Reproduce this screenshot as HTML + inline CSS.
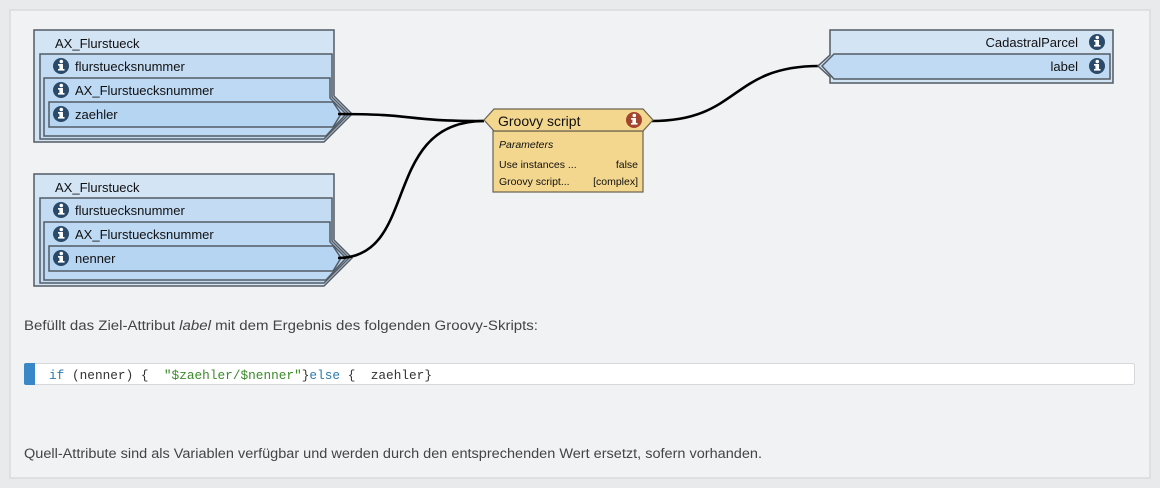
<!DOCTYPE html>
<html><head><meta charset="utf-8"><style>
html,body{margin:0;padding:0;background:#e9eaec;}
svg{display:block;font-family:"Liberation Sans",sans-serif;}
</style></head><body>
<svg width="1160" height="488" viewBox="0 0 1160 488" xmlns="http://www.w3.org/2000/svg">
<defs>
<g id="ic"><circle r="8" fill="#2b4a69"/><rect x="-1.6" y="-2" width="3.6" height="6.5" fill="#fff"/><rect x="-3" y="-2" width="3" height="1.6" fill="#fff"/><rect x="-3" y="3" width="6.5" height="1.6" fill="#fff"/><circle cx="0.3" cy="-4.5" r="1.8" fill="#fff"/></g>
<g id="src">
<polygon points="34,30 334,30 334,96 352,114 324,142 34,142" fill="#d3e4f5" stroke="#535b64" stroke-width="1.5"/>
<polygon points="40,54 332,54 332,97 349,114 324,139 40,139" fill="#c3dcf4" stroke="#535b64" stroke-width="1.5"/>
<polygon points="44,78 330,78 330,98 346,114 326,136 44,136" fill="#bdd9f3" stroke="#535b64" stroke-width="1.5"/>
<polygon points="49,102 333,102 341,114 333,127 49,127" fill="#b6d5f3" stroke="#535b64" stroke-width="1.5"/>
<text x="55" y="48" font-size="13" fill="#111">AX_Flurstueck</text>
<use href="#ic" x="61" y="66"/>
<text x="75" y="71" font-size="13" fill="#111">flurstuecksnummer</text>
<use href="#ic" x="61" y="90"/>
<text x="75" y="95" font-size="13" fill="#111">AX_Flurstuecksnummer</text>
<use href="#ic" x="61" y="114"/>
</g>
</defs>
<rect x="10" y="10" width="1140" height="468" fill="#f1f2f4" stroke="#d0d3d7"/>
<use href="#src"/>
<text x="75" y="119" font-size="13" fill="#111">zaehler</text>
<use href="#src" y="144"/>
<text x="75" y="263" font-size="13" fill="#111">nenner</text>

<path d="M338,114 C420,114 400,121 484,121" fill="none" stroke="#000" stroke-width="2.6"/>
<path d="M338,258 C420,258 380,121 484,121" fill="none" stroke="#000" stroke-width="2.6"/>
<path d="M652,121 C740,121 730,66 819,66" fill="none" stroke="#000" stroke-width="2.6"/>

<rect x="493" y="131" width="150" height="61" fill="#f4d78e" stroke="#6a6250" stroke-width="1.2"/>
<polygon points="484,120 494,109 643,109 653,120 643,131 494,131" fill="#f4d78e" stroke="#6a6250" stroke-width="1.2"/>
<text x="498" y="126" font-size="14" fill="#111">Groovy script</text>
<circle cx="634" cy="120" r="8" fill="#a3442e"/>
<rect x="632.4" y="118" width="3.6" height="6.5" fill="#fff"/><rect x="631" y="118" width="3" height="1.6" fill="#fff"/><rect x="631" y="123" width="6.5" height="1.6" fill="#fff"/><circle cx="634.3" cy="115.5" r="1.8" fill="#fff"/>
<text x="499" y="148" font-size="10.5" font-style="italic" fill="#111">Parameters</text>
<text x="499" y="168" font-size="10.5" fill="#111">Use instances ...</text>
<text x="638" y="168" font-size="10.5" fill="#111" text-anchor="end">false</text>
<text x="499" y="185" font-size="10.5" fill="#111">Groovy script...</text>
<text x="638" y="185" font-size="10.5" fill="#111" text-anchor="end">[complex]</text>

<polygon points="830,30 1113,30 1113,83 830,83 830,77 818,66 830,55" fill="#d3e4f5" stroke="#535b64" stroke-width="1.5"/>
<polygon points="834,54 1110,54 1110,79 834,79 822,66" fill="#c0daf3" stroke="#535b64" stroke-width="1.5"/>
<text x="1078" y="47" font-size="13" fill="#111" text-anchor="end">CadastralParcel</text>
<use href="#ic" x="1097" y="42"/>
<text x="1078" y="71" font-size="13" fill="#111" text-anchor="end">label</text>
<use href="#ic" x="1097" y="66"/>

<text x="24" y="330" font-size="13.5" fill="#444" textLength="514" lengthAdjust="spacingAndGlyphs">Befüllt das Ziel-Attribut <tspan font-style="italic">label</tspan> mit dem Ergebnis des folgenden Groovy-Skripts:</text>

<rect x="24.5" y="363.5" width="1110" height="21" rx="2" fill="#fff" stroke="#d6d8db"/>
<rect x="24" y="363" width="11" height="22" rx="2" fill="#3a87c8"/>
<rect x="31" y="363" width="4" height="22" fill="#3a87c8"/>
<text x="49" y="379" font-family="Liberation Mono, monospace" font-size="13" textLength="383" lengthAdjust="spacingAndGlyphs"><tspan fill="#2a7ab0">if</tspan><tspan fill="#333">&#160;(nenner)&#160;{&#160;&#160;</tspan><tspan fill="#3a8a2a">"$zaehler/$nenner"</tspan><tspan fill="#333">}</tspan><tspan fill="#2a7ab0">else</tspan><tspan fill="#333">&#160;{&#160;&#160;zaehler}</tspan></text>

<text x="24" y="458" font-size="13.5" fill="#444" textLength="738" lengthAdjust="spacingAndGlyphs">Quell-Attribute sind als Variablen verfügbar und werden durch den entsprechenden Wert ersetzt, sofern vorhanden.</text>
</svg>
</body></html>
